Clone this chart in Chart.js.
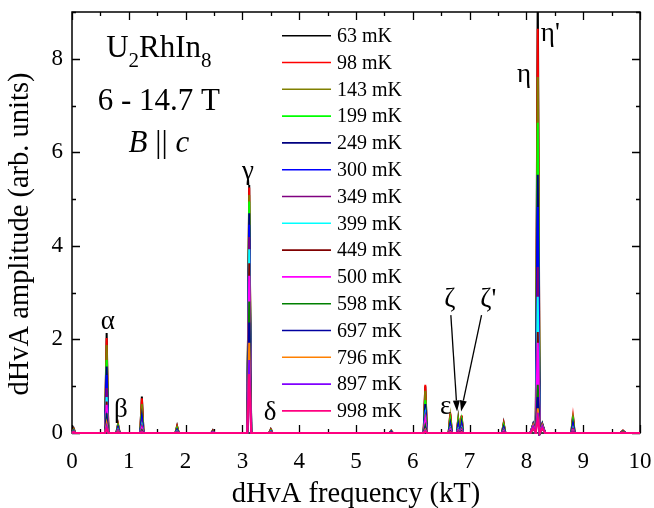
<!DOCTYPE html>
<html><head><meta charset="utf-8">
<script src="https://cdn.jsdelivr.net/npm/chart.js@4.4.0/dist/chart.umd.min.js"></script>
<style>html,body{margin:0;padding:0;background:#fff}#wrap{width:654px;height:508px;position:relative}
.pre{font-family:"Liberation Serif";position:absolute;left:-999px;top:0}</style>
</head><body><span class="pre">a</span><span class="pre" style="font-style:italic">a</span><div id="wrap"><canvas id="c"></canvas></div>
<script>
// ---- data ----
const temperatures = ['63 mK','98 mK','143 mK','199 mK','249 mK','300 mK','349 mK','399 mK','449 mK','500 mK','598 mK','697 mK','796 mK','897 mK','998 mK'];
const seriesColors = ['#000000','#ff0000','#808000','#00ff00','#000080','#0000ff','#800080','#00ffff','#800000','#ff00ff','#008000','#0000a0','#ff8000','#8000ff','#ff0080'];
// peak centre frequencies (kT) and half widths at base (kT)
const peakFreqs      = [0.03, 0.61, 0.81, 1.23, 1.85, 2.48, 3.12, 3.50, 5.62, 6.22, 6.66, 6.80, 6.86, 7.60, 8.12, 8.20, 8.28, 8.82, 9.70];
const peakHalfWidths = [0.03, 0.03, 0.03, 0.03, 0.03, 0.03, 0.035,0.03, 0.03, 0.03, 0.03, 0.025,0.025,0.03, 0.05, 0.035,0.05, 0.03, 0.05];
// peak amplitudes (arb. units) for each temperature
const amp63  = [0.10,2.14,0.19,0.78,0.15,0.06,5.30,0.08,0.05,1.00,0.40,0.30,0.36,0.21,0.10,9.60,0.10,0.37,0.05];
const amp98  = [0.08,2.03,0.18,0.74,0.14,0.05,5.25,0.07,0.05,1.03,0.43,0.32,0.38,0.20,0.11,8.64,0.11,0.35,0.05];
const amp143 = [0.07,1.88,0.16,0.62,0.12,0.04,5.09,0.06,0.04,0.90,0.35,0.28,0.33,0.18,0.12,7.61,0.12,0.30,0.04];
const amp199 = [0.06,1.56,0.14,0.40,0.09,0.03,4.95,0.05,0.04,0.70,0.25,0.22,0.25,0.15,0.13,6.63,0.13,0.25,0.04];
const amp249 = [0.05,1.42,0.12,0.34,0.07,0.03,4.70,0.04,0.03,0.62,0.20,0.18,0.20,0.12,0.14,5.52,0.14,0.20,0.03];
const amp300 = [0.05,1.24,0.10,0.28,0.06,0.02,4.45,0.04,0.03,0.49,0.16,0.14,0.16,0.10,0.15,4.83,0.15,0.16,0.03];
const amp349 = [0.04,0.96,0.08,0.20,0.05,0.02,4.19,0.03,0.02,0.40,0.12,0.10,0.12,0.08,0.16,3.55,0.16,0.12,0.02];
const amp399 = [0.04,0.77,0.07,0.16,0.04,0.01,3.93,0.03,0.02,0.35,0.10,0.08,0.10,0.06,0.17,2.91,0.17,0.10,0.02];
const amp449 = [0.03,0.67,0.06,0.13,0.03,0.01,3.63,0.02,0.02,0.30,0.08,0.06,0.08,0.05,0.18,2.16,0.18,0.08,0.02];
const amp500 = [0.03,0.60,0.05,0.11,0.02,0.01,3.36,0.02,0.01,0.27,0.07,0.05,0.06,0.04,0.19,1.93,0.19,0.06,0.01];
const amp598 = [0.03,0.42,0.03,0.06,0.01,0.00,2.81,0.01,0.01,0.15,0.04,0.03,0.04,0.02,0.20,1.03,0.20,0.03,0.01];
const amp697 = [0.02,0.30,0.02,0.04,0.01,0.00,2.36,0.01,0.01,0.10,0.03,0.02,0.03,0.02,0.19,0.77,0.19,0.02,0.01];
const amp796 = [0.02,0.20,0.02,0.03,0.01,0.00,1.93,0.01,0.00,0.07,0.02,0.01,0.02,0.01,0.17,0.53,0.17,0.01,0.01];
const amp897 = [0.02,0.14,0.01,0.02,0.01,0.00,1.56,0.00,0.00,0.05,0.01,0.01,0.01,0.01,0.14,0.43,0.14,0.01,0.00];
const amp998 = [0.02,0.10,0.01,0.01,0.00,0.00,1.26,0.00,0.00,0.03,0.01,0.01,0.01,0.01,0.10,0.32,0.10,0.01,0.00];
const amplitudes = [amp63,amp98,amp143,amp199,amp249,amp300,amp349,amp399,amp449,amp500,amp598,amp697,amp796,amp897,amp998];
const xTickLabels = ['0','1','2','3','4','5','6','7','8','9','10'];
const yTickLabels = ['0','2','4','6','8'];
// peak labels: [text, x (kT), y (amplitude)]
const peakLabels = [['α',0.63,2.37],['β',0.86,0.49],['γ',3.10,5.58],['δ',3.49,0.43],['ε',6.58,0.56],['ζ',6.65,2.84],["ζ'",7.33,2.84],['η',7.96,7.66],["η'",8.42,8.53]];
// arrows: [fromX, fromY, toX, toY] in data units
const arrows = [[6.67,2.52,6.78,0.46],[7.21,2.52,6.85,0.46]];

// ---- build spectra ----
function buildSpectrum(amps){
  const pts=[{x:0,y:0}];
  peakFreqs.forEach((f,i)=>{
    const w=peakHalfWidths[i];
    pts.push({x:f-w,y:0},{x:f,y:amps[i]},{x:f+w,y:0});
  });
  pts.push({x:10,y:0});
  return pts;
}
const datasets = temperatures.map((t,i)=>({
  label:t,
  data:buildSpectrum(amplitudes[i]),
  borderColor:seriesColors[i],
  backgroundColor:seriesColors[i],
  borderWidth:2,
  pointRadius:0,
  tension:0,
  fill:false,
  clip:{left:2,right:2,top:0,bottom:3},
  order:temperatures.length-1-i
}));

const SERIF='"Liberation Serif", "Times New Roman", serif';

const frame = {
  id:'frame',
  beforeDatasetsDraw(chart){
    const ctx=chart.ctx, a=chart.chartArea, xs=chart.scales.x, ys=chart.scales.y;
    ctx.save();
    ctx.strokeStyle='#000'; ctx.lineWidth=1.5;
    ctx.strokeRect(a.left,a.top,a.right-a.left,a.bottom-a.top);
    ctx.lineWidth=1.3;
    ctx.beginPath();
    for(let k=0;k<=20;k++){
      const v=k*0.5, px=Math.round(xs.getPixelForValue(v))+0.5, L=(k%2===0)?8:4;
      ctx.moveTo(px,a.bottom); ctx.lineTo(px,a.bottom-L);
      ctx.moveTo(px,a.top); ctx.lineTo(px,a.top+L);
    }
    for(let k=0;k<=9;k++){
      const py=Math.round(ys.getPixelForValue(k))+0.5, L=(k%2===0)?8:4;
      ctx.moveTo(a.left,py); ctx.lineTo(a.left+L,py);
      ctx.moveTo(a.right,py); ctx.lineTo(a.right-L,py);
    }
    ctx.stroke();
    ctx.restore();
  }
};

const decor = {
  id:'decor',
  afterDatasetsDraw(chart){
    const ctx=chart.ctx, a=chart.chartArea, xs=chart.scales.x, ys=chart.scales.y;
    ctx.save();
    ctx.fillStyle='#000'; ctx.strokeStyle='#000'; ctx.textAlign='center'; ctx.textBaseline='middle';
    ctx.font='27px '+SERIF;
    peakLabels.forEach(([t,x,y])=>{ctx.fillText(t,xs.getPixelForValue(x),ys.getPixelForValue(y));});
    // arrows
    ctx.lineWidth=1.3;
    arrows.forEach(([x0,y0,x1,y1])=>{
      const X0=xs.getPixelForValue(x0),Y0=ys.getPixelForValue(y0),X1=xs.getPixelForValue(x1),Y1=ys.getPixelForValue(y1);
      const ang=Math.atan2(Y1-Y0,X1-X0), hl=11, hw=3.5;
      const bx=X1-hl*Math.cos(ang), by=Y1-hl*Math.sin(ang);
      ctx.beginPath(); ctx.moveTo(X0,Y0); ctx.lineTo(bx,by); ctx.stroke();
      ctx.beginPath();
      ctx.moveTo(X1,Y1);
      ctx.lineTo(bx+hw*Math.sin(ang),by-hw*Math.cos(ang));
      ctx.lineTo(bx-hw*Math.sin(ang),by+hw*Math.cos(ang));
      ctx.closePath(); ctx.fill();
    });
    // sample annotation
    const cx=xs.getPixelForValue(1.53);
    ctx.textBaseline='alphabetic';
    const parts=[['U',0],['2',1],['RhIn',0],['8',1]];
    let tot=0;
    parts.forEach(([s,sub])=>{ctx.font=(sub?'21px ':'31px ')+SERIF; tot+=ctx.measureText(s).width;});
    let px=cx-tot/2; ctx.textAlign='left';
    parts.forEach(([s,sub])=>{ctx.font=(sub?'21px ':'31px ')+SERIF; ctx.fillText(s,px,a.top+45+(sub?10:0)); px+=ctx.measureText(s).width;});
    ctx.textAlign='center';
    ctx.font='31px '+SERIF;
    ctx.fillText('6 - 14.7 T',cx,a.top+98);
    ctx.font='italic 31px '+SERIF;
    const w1=ctx.measureText('B').width; ctx.font='31px '+SERIF; const w2=ctx.measureText(' || ').width; ctx.font='italic 31px '+SERIF; const w3=ctx.measureText('c').width;
    let bx=cx-(w1+w2+w3)/2; ctx.textAlign='left';
    ctx.fillText('B',bx,a.top+140); ctx.font='31px '+SERIF; ctx.fillText(' || ',bx+w1,a.top+140); ctx.font='italic 31px '+SERIF; ctx.fillText('c',bx+w1+w2,a.top+140);
    // legend
    ctx.font='20px '+SERIF; ctx.textBaseline='middle'; ctx.textAlign='left';
    temperatures.forEach((t,i)=>{
      const y=a.top+23.7+i*26.8;
      ctx.strokeStyle=seriesColors[i]; ctx.lineWidth=1.6;
      ctx.beginPath(); ctx.moveTo(a.left+210,y); ctx.lineTo(a.left+259,y); ctx.stroke();
      ctx.fillStyle='#000'; ctx.fillText(t,a.left+265,y+1);
    });
    // axis titles
    ctx.font='28.5px '+SERIF; ctx.textAlign='center'; ctx.textBaseline='middle';
    ctx.fillText('dHvA frequency (kT)',(a.left+a.right)/2,495);
    ctx.save(); ctx.translate(21,234); ctx.rotate(-Math.PI/2);
    ctx.fillText('dHvA amplitude (arb. units)',0,0); ctx.restore();
    ctx.restore();
  }
};

function makeChart(){
  new Chart(document.getElementById('c'),{
    type:'line',
    data:{datasets},
    options:{
      responsive:true, maintainAspectRatio:false, animation:false,
      layout:{padding:{top:12,right:14,left:0,bottom:0}},
      plugins:{legend:{display:false},tooltip:{enabled:false}},
      scales:{
        x:{type:'linear',min:0,max:10,
          grid:{display:false,drawTicks:false},border:{display:false},
          ticks:{stepSize:1,padding:15,color:'#000',font:{family:SERIF,size:23},maxRotation:0,
            callback:(v)=>{const i=xTickLabels.indexOf(String(v));return i>=0?xTickLabels[i]:'';}},
          afterFit:(s)=>{s.height=75; s.paddingLeft=0; s.paddingRight=0;}
        },
        y:{type:'linear',min:0,max:9,
          grid:{display:false,drawTicks:false},border:{display:false},
          ticks:{stepSize:2,padding:9,color:'#000',font:{family:SERIF,size:23},
            callback:(v)=>{const i=yTickLabels.indexOf(String(v));return i>=0?yTickLabels[i]:'';}},
          afterFit:(s)=>{s.width=72; s.paddingTop=0; s.paddingBottom=0;}
        }
      }
    },
    plugins:[frame,decor]
  });
}
Chart.defaults.font.family = SERIF;
let made=false;
function go(){ if(!made){made=true; makeChart();} }
if(document.fonts && document.fonts.load){
  Promise.all([document.fonts.load('23px "Liberation Serif"'),document.fonts.load('italic 31px "Liberation Serif"')]).then(go,go);
  setTimeout(go,800);
} else go();
</script></body></html>
